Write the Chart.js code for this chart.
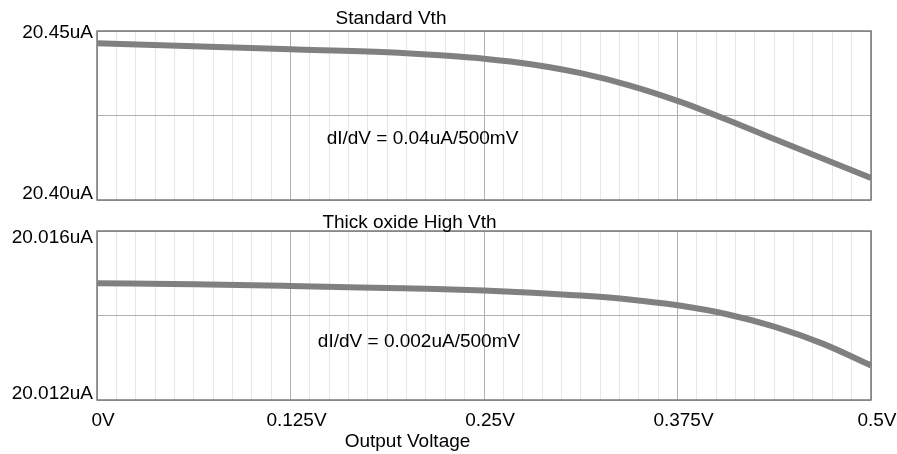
<!DOCTYPE html>
<html lang="en">
<head>
  <meta charset="UTF-8" />
  <title>Output current vs output voltage</title>
  <script src="https://cdn.jsdelivr.net/npm/chart.js"></script>
  <style>
    body {
      margin: 0;
      background: #ffffff;
    }
    #wrap {
      position: relative;
      width: 897px;
      height: 454px;
    }
    canvas {
      position: absolute;
      left: 0;
      display: block;
    }
    #topChart { top: 0; }
    #bottomChart { top: 210px; }
  </style>
</head>
<body>
  <div id="wrap">
    <canvas id="topChart" width="897" height="210"></canvas>
    <canvas id="bottomChart" width="897" height="244"></canvas>
  </div>

  <script>
    // sweep points (V)
    const voltages = [0, 0.0625, 0.125, 0.1875, 0.21875, 0.25, 0.28125, 0.3125, 0.34375, 0.375, 0.40625, 0.4375, 0.46875, 0.5];

    // current in uA
    const standardVth = [20.44636, 20.44547, 20.44459, 20.4437, 20.4429, 20.4418, 20.44009, 20.43752, 20.43394, 20.42935, 20.42391, 20.41802, 20.41228, 20.40654];
    const thickOxideHighVth = [20.014762, 20.014738, 20.014698, 20.014651, 20.014627, 20.014592, 20.01454, 20.014471, 20.014379, 20.014241, 20.014036, 20.013737, 20.013335, 20.012819];

    const xTickValues = [0, 0.125, 0.25, 0.375, 0.5];
    const xTickLabels = ['0V', '0.125V', '0.25V', '0.375V', '0.5V'];

    const topGridValues = [20.40, 20.425, 20.45];
    const topTickValues = [20.45, 20.40];
    const topTickLabels = ['20.45uA', '20.40uA'];

    const bottomGridValues = [20.012, 20.014, 20.016];
    const bottomTickValues = [20.016, 20.012];
    const bottomTickLabels = ['20.016uA', '20.012uA'];

    const FONT_FAMILY = '"Liberation Sans", Arial, sans-serif';
    const FONT = '19px ' + FONT_FAMILY;
    const LINE_COLOR = '#808080';

    function isMajor(v) {
      return Math.abs(v * 8 - Math.round(v * 8)) < 1e-6;
    }

    function xLabel(v) {
      const i = xTickValues.findIndex(t => Math.abs(t - v) < 1e-6);
      return i >= 0 ? xTickLabels[i] : '';
    }

    // box around the plot, y labels and free text
    function panelPlugin(cfg) {
      return {
        id: 'panel',
        beforeDatasetsDraw(chart) {
          const { ctx, chartArea: a } = chart;
          ctx.save();
          ctx.strokeStyle = '#7a7a7a';
          ctx.lineWidth = 1.5;
          ctx.strokeRect(a.left, a.top, a.right - a.left, a.bottom - a.top);
          ctx.restore();
        },
        afterDraw(chart) {
          const { ctx, scales } = chart;
          ctx.save();
          ctx.font = FONT;
          ctx.fillStyle = '#000000';
          ctx.textBaseline = 'alphabetic';
          ctx.textAlign = 'right';
          cfg.yValues.forEach((v, i) => {
            ctx.fillText(cfg.yLabels[i], 93, scales.y.getPixelForValue(v) + cfg.yShift[i]);
          });
          ctx.textAlign = 'center';
          cfg.texts.forEach(t => ctx.fillText(t.text, t.x, t.y));
          ctx.restore();
        }
      };
    }

    function makeChart(id, values, yMin, yMax, gridValues, showX, padding, plugin) {
      return new Chart(document.getElementById(id), {
        type: 'line',
        data: {
          datasets: [{
            data: voltages.map((v, i) => ({ x: v, y: values[i] })),
            borderColor: LINE_COLOR,
            borderWidth: 6,
            pointRadius: 0,
            fill: false,
            cubicInterpolationMode: 'monotone'
          }]
        },
        options: {
          responsive: false,
          animation: false,
          events: [],
          layout: { padding: padding },
          plugins: {
            legend: { display: false },
            tooltip: { enabled: false },
            title: { display: false }
          },
          scales: {
            x: {
              type: 'linear',
              min: 0,
              max: 0.5,
              border: { display: false },
              grid: {
                drawTicks: false,
                lineWidth: 1,
                color: c => isMajor(c.tick.value) ? '#b0b0b0' : '#e6e6e6'
              },
              ticks: {
                display: showX,
                stepSize: 0.0125,
                maxTicksLimit: 100,
                autoSkip: false,
                maxRotation: 0,
                minRotation: 0,
                padding: 9,
                labelOffset: 6,
                color: '#000000',
                font: { family: FONT_FAMILY, size: 19 },
                callback: v => xLabel(v)
              },
              afterFit: s => {
                if (showX) s.height = 54;
                // keep the plot box width fixed, labels may overhang
                s.paddingLeft = 0;
                s.paddingRight = 0;
              }
            },
            y: {
              min: yMin,
              max: yMax,
              border: { display: false },
              grid: { drawTicks: false, color: '#b0b0b0', lineWidth: 1 },
              ticks: { display: false },
              afterBuildTicks: s => { s.ticks = gridValues.map(v => ({ value: v })); }
            }
          }
        },
        plugins: [plugin]
      });
    }

    makeChart('topChart', standardVth, 20.40, 20.45, topGridValues, false,
      { left: 97, top: 31, right: 26, bottom: 10 },
      panelPlugin({
        yValues: topTickValues,
        yLabels: topTickLabels,
        yShift: [6.7, -1],
        texts: [
          { text: 'Standard Vth', x: 391, y: 24 },
          { text: 'dI/dV = 0.04uA/500mV', x: 422.5, y: 144 }
        ]
      }));

    makeChart('bottomChart', thickOxideHighVth, 20.012, 20.016, bottomGridValues, true,
      { left: 97, top: 21, right: 26, bottom: 0 },
      panelPlugin({
        yValues: bottomTickValues,
        yLabels: bottomTickLabels,
        yShift: [12.3, -0.7],
        texts: [
          { text: 'Thick oxide High Vth', x: 409.5, y: 18.3 },
          { text: 'dI/dV = 0.002uA/500mV', x: 419, y: 136.7 },
          { text: 'Output Voltage', x: 407.5, y: 237 }
        ]
      }));
  </script>
</body>
</html>
